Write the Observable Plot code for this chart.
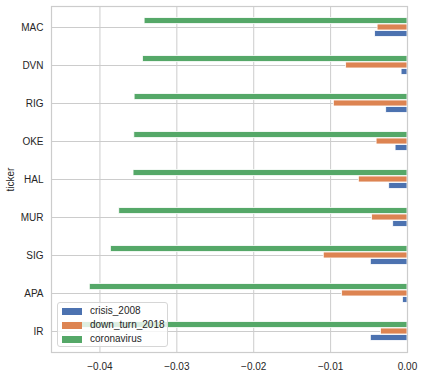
<!DOCTYPE html>
<html><head><meta charset="utf-8">
<script src="https://cdn.jsdelivr.net/npm/d3@7"></script>
<script src="https://cdn.jsdelivr.net/npm/@observablehq/plot@0.6"></script>
<style>
body{margin:0;background:#fff;}
#wrap{position:relative;width:423px;height:376px;font-family:"Liberation Sans",Arial,sans-serif;}
.legend{position:absolute;left:57px;top:302px;width:109px;height:43px;background:rgba(255,255,255,0.8);border:1px solid #d6d6d6;border-radius:3px;}
.row{position:absolute;left:0;height:14px;width:100%;}
.sw{position:absolute;left:4px;width:20px;height:7px;}
.lb{position:absolute;left:32px;font-size:10px;color:#262626;line-height:14px;white-space:nowrap;}
</style></head><body><div id="wrap"></div>
<script>
const tickers = ["MAC","DVN","RIG","OKE","HAL","MUR","SIG","APA","IR"];
const crisis_2008 = [-0.00421,-0.00077,-0.00277,-0.00155,-0.00238,-0.00186,-0.00477,-0.00060,-0.00477];
const down_turn_2018 = [-0.00389,-0.00798,-0.00958,-0.00402,-0.00633,-0.00460,-0.01089,-0.00850,-0.00346];
const coronavirus = [-0.03419,-0.03441,-0.03549,-0.03553,-0.03563,-0.03749,-0.03858,-0.04132,-0.04410];
const seriesNames = ["crisis_2008","down_turn_2018","coronavirus"];
const seriesColors = ["#4C72B0","#DD8452","#55A868"];
const xTicks = [-0.04,-0.03,-0.02,-0.01,0];
const xDomain = [-0.0463, 0];

const W = 423, H = 376, mT = 6, mB = 24, mL = 51, mR = 16;
const bw = (H - mT - mB) / tickers.length;
const bh = bw * 0.5 / 3;
const seriesValues = [crisis_2008, down_turn_2018, coronavirus];
// offsets: crisis lowest, coronavirus highest
const offsets = [bh, 0, -bh];

const barMarks = seriesValues.map((vals, k) => {
  const data = tickers.map((t, i) => ({ticker: t, value: vals[i]}));
  const d = offsets[k];
  return Plot.barX(data, {
    x: "value", y: "ticker",
    fill: seriesColors[k], stroke: "white", strokeWidth: 0.8,
    insetTop: bw/2 - bh/2 + d, insetBottom: bw/2 - bh/2 - d
  });
});

const fmt = d => d === 0 ? "0.00" : "\u2212" + Math.abs(d).toFixed(2);

const chart = Plot.plot({
  width: W, height: H,
  marginTop: mT, marginBottom: mB, marginLeft: mL, marginRight: mR,
  style: {fontFamily: '"Liberation Sans", Arial, sans-serif', fontSize: "10px", color: "#262626", background: "white"},
  x: {domain: xDomain},
  y: {domain: tickers, padding: 0},
  marks: [
    Plot.gridX(xTicks, {stroke: "#cccccc", strokeOpacity: 1, strokeWidth: 1}),
    Plot.gridY(tickers, {stroke: "#cccccc", strokeOpacity: 1, strokeWidth: 1}),
    ...barMarks,
    Plot.frame({stroke: "#cccccc", strokeWidth: 1.2}),
    Plot.axisX(xTicks, {tickSize: 0, tickPadding: 10, tickFormat: fmt, label: null, fill: "#262626"}),
    Plot.axisY({tickSize: 0, tickPadding: 8, label: "ticker", labelAnchor: "center", labelOffset: 45, fill: "#262626"})
  ]
});
const wrap = document.getElementById("wrap");
wrap.appendChild(chart);

const lg = document.createElement("div");
lg.className = "legend";
seriesNames.forEach((n, k) => {
  const row = document.createElement("div");
  row.className = "row";
  row.style.top = (1 + k * 14.2) + "px";
  const sw = document.createElement("div");
  sw.className = "sw"; sw.style.background = seriesColors[k]; sw.style.top = "3.5px";
  const lb = document.createElement("div");
  lb.className = "lb"; lb.textContent = n;
  row.appendChild(sw); row.appendChild(lb);
  lg.appendChild(row);
});
wrap.appendChild(lg);
</script>
</body></html>
